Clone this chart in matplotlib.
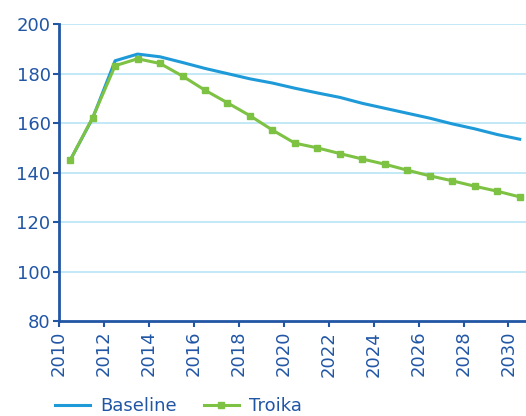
import matplotlib
matplotlib.use("Agg")
import matplotlib.pyplot as plt
import numpy as np

years = [2010.5 + i for i in range(21)]
baseline = [145, 162, 185.2, 187.9, 186.8, 184.5, 182.1, 180.0, 177.9, 176.2, 174.1,
            172.2, 170.4, 168.0, 166.0, 164.0, 162.0, 159.7, 157.7, 155.4, 153.5]
troika = [145, 162.2, 183.2, 186, 184.1, 179, 173.3, 168.2, 163, 157.2, 151.9,
          150, 147.7, 145.5, 143.4, 141, 138.7, 136.7, 134.5, 132.5, 130.2]
xticks = list(range(2010, 2031, 2))
yticks = [80, 100, 120, 140, 160, 180, 200]

dark = "#2156a5"
grid = "#bde6f6"
blue = "#1f9ad8"
green = "#7dc243"

fig = plt.figure(figsize=(5.26, 4.16), dpi=100)
ax = fig.add_axes([0.112, 0.228, 0.888, 0.714])
for y in yticks[1:]:
    ax.axhline(y, color=grid, lw=1.3, zorder=0)
ax.plot(years, baseline, color=blue, lw=2.2, label="Baseline", zorder=3)
ax.plot(years, troika, color=green, lw=2.2, marker="s", ms=5, label="Troika", zorder=4)
ax.set_xlim(2010, 2030.78)
ax.set_ylim(80, 200)
ax.set_xticks(xticks)
ax.set_xticklabels([str(x) for x in xticks], rotation=90)
ax.set_yticks(yticks)
for s in ["top", "right"]:
    ax.spines[s].set_visible(False)
for s in ["left", "bottom"]:
    ax.spines[s].set_color(dark)
    ax.spines[s].set_linewidth(2)
ax.tick_params(axis="both", colors=dark, labelsize=13, length=4, width=1.5)
ax.tick_params(axis="y", pad=2)
ax.tick_params(axis="x", pad=3)
leg = fig.legend(loc="center left", bbox_to_anchor=(0.104, 0.024), ncol=2, frameon=False,
                 fontsize=13, handlelength=1.95, columnspacing=1.5, handletextpad=0.55,
                 borderpad=0, borderaxespad=0)
for t in leg.get_texts():
    t.set_color(dark)
fig.savefig("out.png", dpi=100)
